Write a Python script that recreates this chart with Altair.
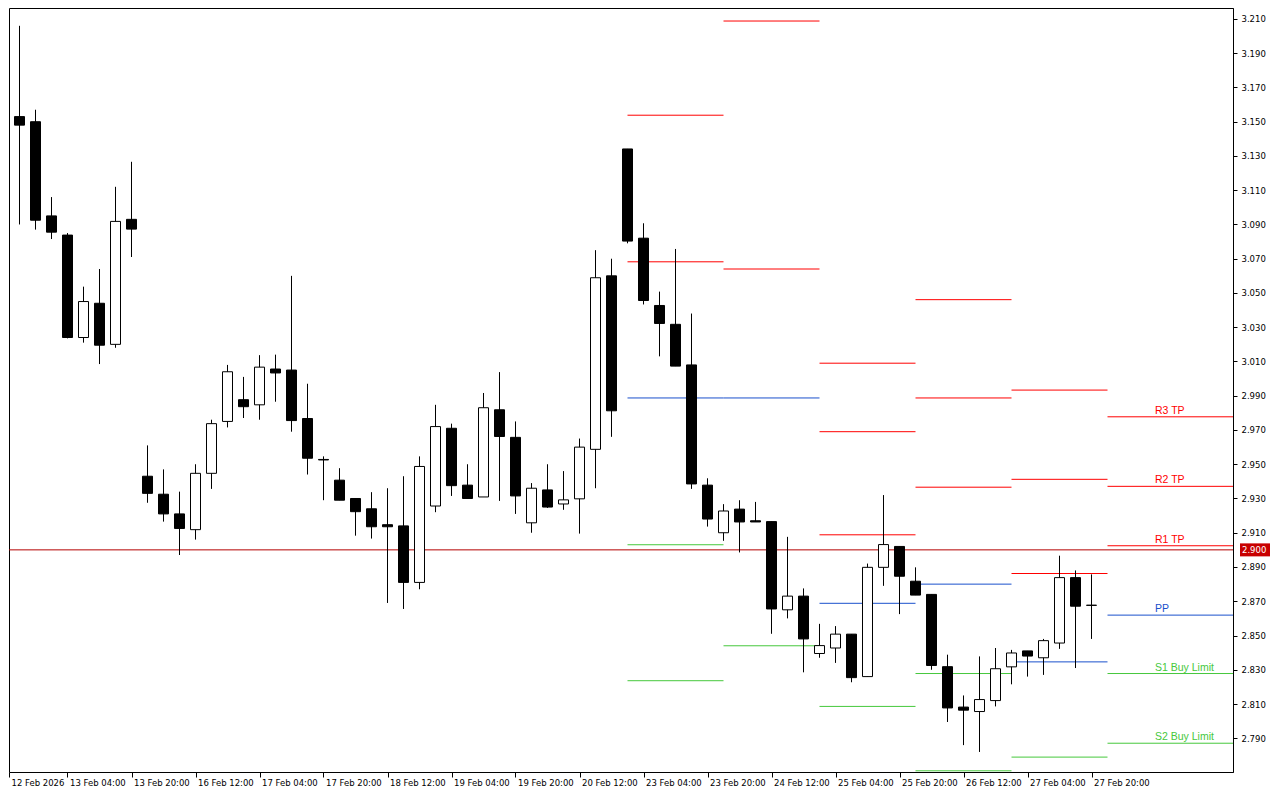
import json
import altair as alt
import pandas as pd

# ---------------- data (H4 candles, index 0 = 12 Feb 16:00) ----------------
bar_index = list(range(-1, 68))
opens = [3.104, 3.153, 3.150, 3.095, 3.0838, 3.024, 3.044, 3.020, 3.093,
         2.943, 2.9325, 2.921, 2.9118, 2.9447, 2.975, 2.9877, 2.9847, 3.0056, 3.005, 2.9767, 2.9528,
         2.9407, 2.930, 2.924, 2.9147, 2.914, 2.881, 2.9256, 2.971, 2.9378, 2.9309, 2.9818, 2.9657,
         2.9158, 2.935, 2.9268, 2.9298, 2.9587, 3.060,
         3.1341, 3.082, 3.0427, 3.0317, 3.008, 2.9378,
         2.910, 2.9238, 2.917, 2.9165, 2.865, 2.873,
         2.8395, 2.8427, 2.8508, 2.826, 2.8898, 2.902,
         2.8817, 2.874, 2.8318, 2.8082, 2.8056, 2.812,
         2.8317, 2.841, 2.837, 2.8456, 2.8838, 2.8677]
highs = [3.156, 3.206, 3.157, 3.106, 3.085, 3.0537, 3.064, 3.112, 3.1266,
         2.961, 2.947, 2.934, 2.950, 2.976, 3.008, 3.001, 3.0137, 3.014, 3.060, 2.997, 2.9546,
         2.9477, 2.930, 2.9337, 2.936, 2.943, 2.9546, 2.9847, 2.9737, 2.950, 2.9916, 3.0038, 2.975,
         2.939, 2.950, 2.946, 2.965, 3.075, 3.070,
         3.1341, 3.0907, 3.0508, 3.0757, 3.038, 2.9418,
         2.9267, 2.929, 2.928, 2.9165, 2.9076, 2.8775,
         2.8568, 2.8555, 2.8508, 2.892, 2.932, 2.902,
         2.8898, 2.874, 2.8388, 2.815, 2.8378, 2.8427,
         2.8416, 2.841, 2.848, 2.8966, 2.888, 2.8857]
lows = [3.102, 3.090, 3.087, 3.0815, 3.0235, 3.021, 3.0085, 3.018, 3.071,
        2.9275, 2.9165, 2.897, 2.906, 2.9356, 2.9715, 2.977, 2.976, 2.9865, 2.969, 2.944, 2.929,
        2.929, 2.9083, 2.9066, 2.869, 2.8655, 2.877, 2.922, 2.9315, 2.930, 2.9309, 2.9286, 2.921,
        2.910, 2.9245, 2.9234, 2.9095, 2.936, 2.966,
        3.079, 3.0433, 3.013, 3.0073, 2.9356, 2.9136,
        2.9053, 2.8985, 2.9163, 2.851, 2.860, 2.8285,
        2.837, 2.834, 2.8227, 2.826, 2.879, 2.8625,
        2.8736, 2.830, 2.7995, 2.786, 2.782, 2.8086,
        2.8215, 2.826, 2.827, 2.8422, 2.831, 2.848]
closes = [3.154, 3.148, 3.0925, 3.0855, 3.024, 3.045, 3.0195, 3.0918, 3.0873,
          2.933, 2.921, 2.9125, 2.9447, 2.9737, 3.004, 2.9836, 3.0067, 3.0033, 2.9755, 2.9535, 2.9525,
          2.929, 2.9223, 2.9135, 2.9135, 2.881, 2.9487, 2.972, 2.9375, 2.930, 2.983, 2.9662, 2.9315,
          2.936, 2.925, 2.9292, 2.960, 3.0589, 2.9812,
          3.0803, 3.0456, 3.0322, 3.0073, 2.9385, 2.918,
          2.9227, 2.9163, 2.9163, 2.8655, 2.873, 2.848,
          2.8441, 2.8508, 2.8254, 2.8898, 2.9031, 2.8846,
          2.8736, 2.8325, 2.8077, 2.8064, 2.8126, 2.8306,
          2.8398, 2.838, 2.847, 2.8838, 2.8671, 2.8676]

time_labels = ["12 Feb 2026", "13 Feb 04:00", "13 Feb 20:00", "16 Feb 12:00", "17 Feb 04:00",
               "17 Feb 20:00", "18 Feb 12:00", "19 Feb 04:00", "19 Feb 20:00", "20 Feb 12:00",
               "23 Feb 04:00", "23 Feb 20:00", "24 Feb 12:00", "25 Feb 04:00", "25 Feb 20:00",
               "26 Feb 12:00", "27 Feb 04:00", "27 Feb 20:00"]
label_bars = [3, 7, 11, 15, 19, 23, 27, 31, 35, 39, 43, 47, 51, 55, 59, 63, 67]

price_ticks = [2.790, 2.810, 2.830, 2.850, 2.870, 2.890, 2.910, 2.930, 2.950, 2.970,
               2.990, 3.010, 3.030, 3.050, 3.070, 3.090, 3.110, 3.130, 3.150, 3.170,
               3.190, 3.210]
current_price = 2.900

# daily pivot levels (start bar of each day, end bar)
day_start = [38, 44, 50, 56, 62, 68]
day_end = [44, 50, 56, 62, 68, 75.84375]
R3 = [None, None, 3.009, 3.0461, 2.9933, 2.9777]
R2 = [3.1538, 3.2088, 2.969, 2.9887, 2.9412, 2.9371]
R1 = [3.0682, 3.064, 2.9088, 2.9366, 2.8862, 2.9024]
PP = [2.9887, 2.9887, 2.8688, 2.880, 2.8346, 2.8619]
S1 = [2.903, 2.844, 2.8086, 2.8278, 2.779, 2.8278]
S2 = [2.8236, None, None, 2.771, None, 2.7871]
level_names = ["R3 TP", "R2 TP", "R1 TP", "PP", "S1 Buy Limit", "S2 Buy Limit"]

# ---------------- tables ----------------
candles = pd.DataFrame({"k": bar_index, "open": opens, "high": highs, "low": lows, "close": closes})

rows = []
for name, kind, arr in [("R3", "R", R3), ("R2", "R", R2), ("R1", "R", R1),
                        ("PP", "P", PP), ("S1", "S", S1), ("S2", "S", S2)]:
    for s, e, v in zip(day_start, day_end, arr):
        if v is not None:
            rows.append({"start": s, "end": e, "level": v, "kind": kind})
pivots = pd.DataFrame(rows)

last_levels = [R3[-1], R2[-1], R1[-1], PP[-1], S1[-1], S2[-1]]
labels_df = pd.DataFrame({"level": last_levels, "text": level_names,
                          "kind": ["R", "R", "R", "P", "S", "S"]})
price_df = pd.DataFrame({"price": [current_price], "text": [f"{current_price:.3f}"]})

# ---------------- scales ----------------
W, H = 1224, 764
x_min, x_max = -0.65625, 75.84375
y_min, y_max = 2.7703, 3.2164
xs = alt.Scale(domain=[x_min, x_max], nice=False, zero=False)
ys = alt.Scale(domain=[y_min, y_max], nice=False, zero=False)
color_scale = alt.Scale(domain=["R", "P", "S"], range=["#FF0000", "#1A50CC", "#46C83C"])

x_ticks = [x_min] + label_bars
label_expr = json.dumps(time_labels) + "[round((datum.value + 1) / 4)]"

x_axis = alt.Axis(values=x_ticks, labelExpr=label_expr, orient="bottom", title=None,
                  grid=False, domain=False, ticks=True, tickSize=5, tickColor="black",
                  labelAlign="left", labelBaseline="top", labelPadding=1, labelOffset=2,
                  labelFont="DejaVu Sans", labelFontSize=8.5, labelColor="black",
                  labelOverlap=False, labelFlush=False, labelBound=False)
y_axis = alt.Axis(values=price_ticks, format=".3f", orient="right", title=None, grid=False,
                  domain=True, domainColor="black", tickSize=4, tickColor="black",
                  labelPadding=4, labelFont="DejaVu Sans", labelFontSize=8.5,
                  labelColor="black", labelOverlap=False, labelFlush=False, labelBound=False)

pivot_lines = alt.Chart(pivots).mark_rule(strokeWidth=1, clip=True).encode(
    x=alt.X("start:Q", scale=xs, axis=x_axis),
    x2="end:Q",
    y=alt.Y("level:Q", scale=ys, axis=y_axis),
    color=alt.Color("kind:N", scale=color_scale, legend=None),
)

price_line = alt.Chart(price_df).mark_rule(color="#B40000", strokeWidth=1).encode(
    y=alt.Y("price:Q", scale=ys, axis=y_axis),
    x=alt.value(0), x2=alt.value(W),
)

wicks = alt.Chart(candles).mark_rule(color="black", strokeWidth=1, clip=True).encode(
    x=alt.X("k:Q", scale=xs, axis=x_axis),
    y=alt.Y("low:Q", scale=ys, axis=y_axis),
    y2="high:Q",
)

bodies = alt.Chart(candles).transform_calculate(
    x_lo="datum.k - 0.3125", x_hi="datum.k + 0.3125"
).mark_rect(stroke="black", strokeWidth=1, clip=True).encode(
    x=alt.X("x_lo:Q", scale=xs, axis=x_axis),
    x2="x_hi:Q",
    y=alt.Y("open:Q", scale=ys, axis=y_axis),
    y2="close:Q",
    fill=alt.condition("datum.close >= datum.open", alt.value("white"), alt.value("black")),
)

level_text = alt.Chart(labels_df).mark_text(
    align="left", baseline="alphabetic", dy=-3, font="Liberation Sans", fontSize=10.5
).encode(
    x=alt.value(W - 78),
    y=alt.Y("level:Q", scale=ys, axis=y_axis),
    text="text:N",
    color=alt.Color("kind:N", scale=color_scale, legend=None),
)

price_box = alt.Chart(price_df).mark_tick(color="#C80000", thickness=13, size=30,
                                          opacity=1, clip=False).encode(
    y=alt.Y("price:Q", scale=ys, axis=y_axis),
    x=alt.value(W + 22),
)
price_text = alt.Chart(price_df).mark_text(
    align="left", baseline="middle", font="DejaVu Sans", fontSize=8.5, color="white"
).encode(
    y=alt.Y("price:Q", scale=ys, axis=y_axis),
    x=alt.value(W + 9),
    text="text:N",
)

chart = alt.layer(
    pivot_lines, price_line, wicks, bodies, level_text, price_box, price_text
).properties(
    width=W, height=H, padding=0, background="white"
).configure_axis(
    labelOverlap=False
).configure_view(
    stroke="black", strokeWidth=1
)

chart.save("out.html", embed_options={"renderer": "svg", "actions": False})
